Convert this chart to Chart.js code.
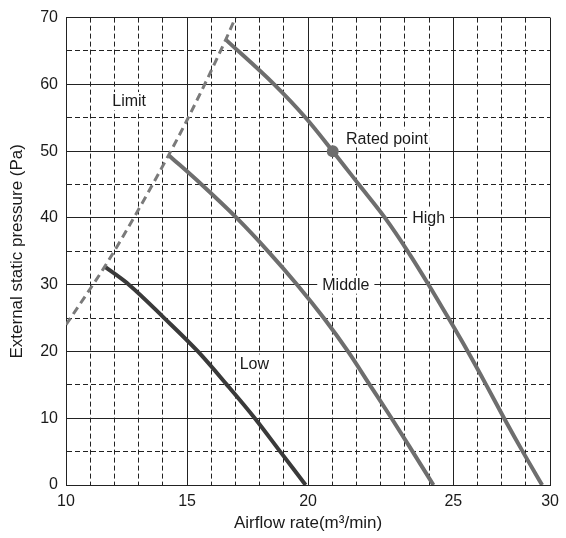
<!DOCTYPE html>
<html>
<head>
<meta charset="utf-8">
<script src="https://cdn.jsdelivr.net/npm/chart.js@4/dist/chart.umd.min.js"></script>
<style>
  html, body { margin: 0; padding: 0; background: #fff; }
  canvas { display: block; }
</style>
</head>
<body>
<canvas id="fanChart" width="566" height="538"></canvas>
<script>
// curves (x = airflow, y = pressure)
const lowX = [11.6, 12.6, 14.06, 15.45, 16.65, 17.8, 18.85, 19.9];
const lowY = [32.7, 30, 25, 20, 15, 10, 5, 0];

const middleX = [14.24, 15.6, 17.05, 18.35, 19.55, 20.65, 21.65, 22.55, 23.45, 24.32, 25.18];
const middleY = [49.4, 45, 40, 35, 30, 25, 20, 15, 10, 5, 0];

const highX = [16.6, 18.6, 19.9, 21.02, 22.1, 23.18, 24.12, 24.98, 25.8, 26.6, 27.36, 28.1, 28.87, 29.67];
const highY = [66.7, 60, 55, 50, 45, 40, 35, 30, 25, 20, 15, 10, 5, 0];

const limitX = [10, 10.8, 11.6, 12.8, 14.24, 15.05, 16.6, 17.0];
const limitY = [24, 28.3, 32.7, 40, 49.4, 55, 66.7, 70];

const ratedX = [21.02];
const ratedY = [50];

// x axis: the reference grid has 20 equal steps, but its "25" major line
// sits on the 16th step, so labels are hung on these grid values
const xMajorValues = [10, 15, 20, 26, 30];
const xMajorLabels = ["10", "15", "20", "25", "30"];
const yTickLabels = ["0", "10", "20", "30", "40", "50", "60", "70"];

// text labels inside the plot
const noteText = ["Limit", "Rated point", "High", "Middle", "Low"];
const noteX = [12.61, 21.57, 24.98, 21.56, 17.78];
const noteY = [57.5, 51.9, 40, 30, 18.2];

function pts(xs, ys) {
  return xs.map((x, i) => ({ x: x, y: ys[i] }));
}

const FONT = "'Liberation Sans', Arial, sans-serif";

const notesPlugin = {
  id: "notes",
  afterDatasetsDraw(chart) {
    const ctx = chart.ctx;
    const xs = chart.scales.x, ys = chart.scales.y;
    ctx.save();
    ctx.font = "16px " + FONT;
    ctx.textBaseline = "middle";
    noteText.forEach((t, i) => {
      const px = xs.getPixelForValue(noteX[i]);
      const py = ys.getPixelForValue(noteY[i]);
      const w = ctx.measureText(t).width;
      const left = t === "Rated point" ? px : px - w / 2;
      const extra = (t === "High" || t === "Middle") ? 5 : 2;
      ctx.fillStyle = "#fff";
      ctx.fillRect(left - extra, py - 9, w + extra * 2, 18);
      ctx.fillStyle = "#1a1a1a";
      ctx.textAlign = "left";
      ctx.fillText(t, left, py + 1);
    });
    ctx.restore();
  }
};

function curve(label, xs, ys, color, width, dash) {
  return {
    label: label,
    data: pts(xs, ys),
    showLine: true,
    borderColor: color,
    borderWidth: width,
    borderDash: dash || [],
    borderJoinStyle: "round",
    pointRadius: 0,
    cubicInterpolationMode: "monotone",
  };
}

new Chart(document.getElementById("fanChart"), {
  type: "scatter",
  data: {
    datasets: [
      curve("Limit", limitX, limitY, "#7a7a7a", 3, [8, 5]),
      curve("Low", lowX, lowY, "#3a3a3a", 4),
      curve("Middle", middleX, middleY, "#6e6e6e", 4),
      curve("High", highX, highY, "#6e6e6e", 4),
      {
        label: "Rated point",
        data: pts(ratedX, ratedY),
        pointRadius: 6,
        pointBackgroundColor: "#6e6e6e",
        pointBorderWidth: 0,
      },
    ],
  },
  options: {
    responsive: false,
    animation: false,
    devicePixelRatio: 1,
    layout: { padding: { top: 14, right: 10, left: 0, bottom: 0 } },
    plugins: { legend: { display: false }, tooltip: { enabled: false } },
    scales: {
      x: {
        type: "linear",
        min: 10,
        max: 30,
        afterFit: (s) => { s.height = 53; },
        afterBuildTicks: (s) => {
          s.ticks = [];
          for (let v = 10; v <= 30; v++) s.ticks.push({ value: v });
        },
        ticks: {
          autoSkip: false,
          maxRotation: 0,
          padding: 7,
          color: "#1a1a1a",
          font: { family: FONT, size: 16 },
          callback: (v) => {
            const i = xMajorValues.indexOf(v);
            return i >= 0 ? xMajorLabels[i] : "";
          },
        },
        grid: { drawTicks: false, color: "#222", lineWidth: 1 },
        border: {
          display: true,
          color: "#222",
          dash: (c) => (c.tick && xMajorValues.indexOf(c.tick.value) < 0 ? [5, 3] : []),
        },
        title: {
          display: true,
          text: "Airflow rate(m³/min)",
          color: "#1a1a1a",
          font: { family: FONT, size: 17 },
          padding: { top: 0, bottom: 4 },
        },
      },
      y: {
        type: "linear",
        min: 0,
        max: 70,
        afterFit: (s) => { s.width = 66; },
        ticks: {
          stepSize: 5,
          padding: 8,
          color: "#1a1a1a",
          font: { family: FONT, size: 16 },
          callback: (v) => (v % 10 === 0 ? yTickLabels[v / 10] : ""),
        },
        grid: { drawTicks: false, color: "#222", lineWidth: 1 },
        border: {
          display: true,
          color: "#222",
          dash: (c) => (c.tick && c.tick.value % 10 !== 0 ? [5, 3] : []),
        },
        title: {
          display: true,
          text: "External static pressure (Pa)",
          color: "#1a1a1a",
          font: { family: FONT, size: 17 },
          padding: { top: 7, bottom: 0 },
        },
      },
    },
  },
  plugins: [notesPlugin],
});
</script>
</body>
</html>
